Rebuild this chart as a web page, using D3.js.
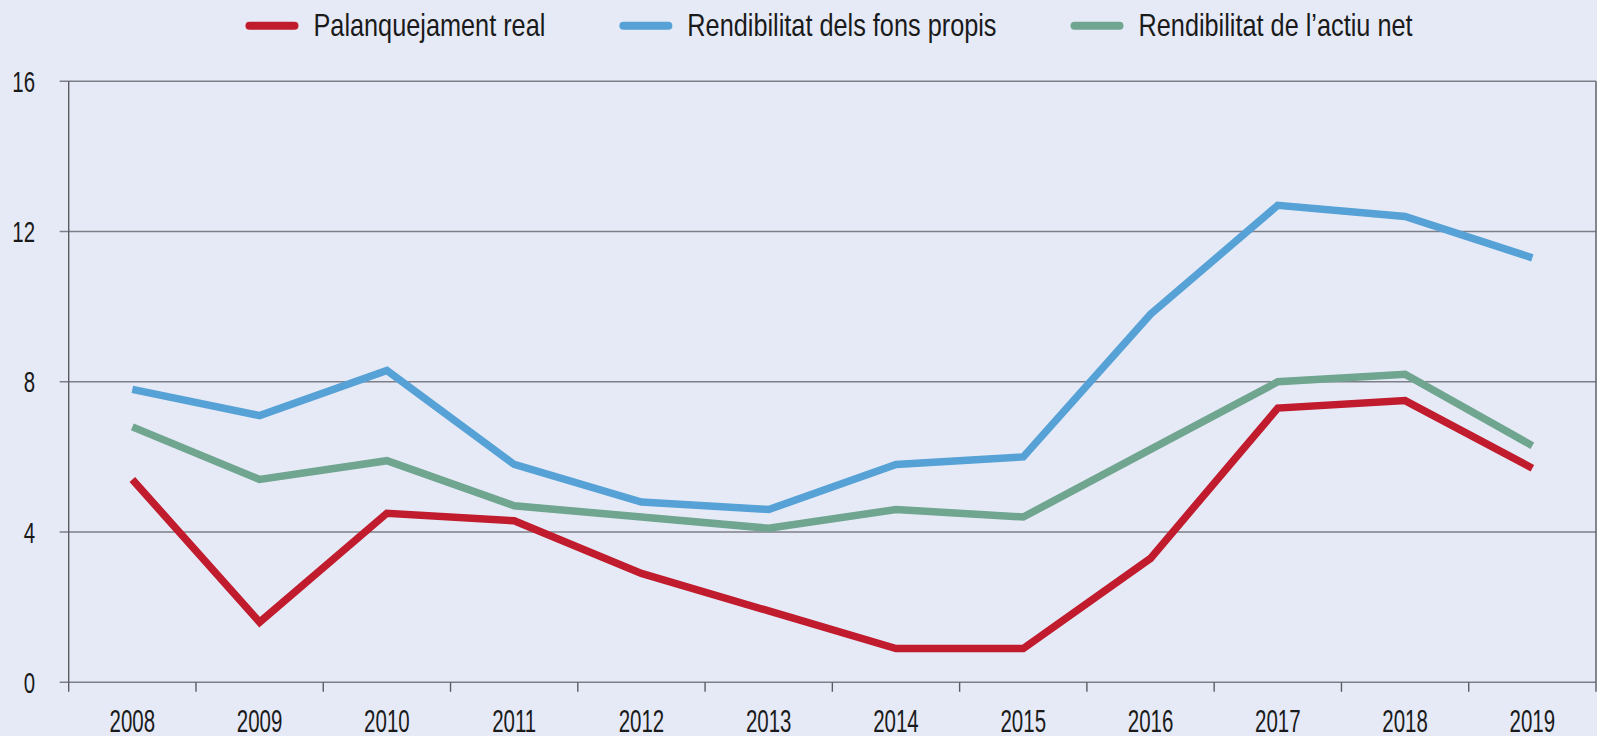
<!DOCTYPE html>
<html>
  <head>
    <meta charset="UTF-8">
    <title>Palanquejament i rendibilitat</title>
    <script src="https://d3js.org/d3.v7.min.js"></script>
    <style>
      body { margin: 0; background: #e6eaf7; }
      svg text { font-family: "Liberation Sans", Arial, sans-serif; fill: #1a1a1a; }
    </style>
  </head>
  <body>
    <svg id="chart" width="1597" height="736"></svg>
    <script>
      // Data
      const years = ["2008", "2009", "2010", "2011", "2012", "2013", "2014", "2015", "2016", "2017", "2018", "2019"];
      const palanquejament = [5.4, 1.6, 4.5, 4.3, 2.9, 1.9, 0.9, 0.9, 3.3, 7.3, 7.5, 5.7];
      const fonsPropis = [7.8, 7.1, 8.3, 5.8, 4.8, 4.6, 5.8, 6.0, 9.8, 12.7, 12.4, 11.3];
      const actiuNet = [6.8, 5.4, 5.9, 4.7, 4.4, 4.1, 4.6, 4.4, 6.2, 8.0, 8.2, 6.3];
      const yTicks = [0, 4, 8, 12, 16];

      const series = [
        { name: "Palanquejament real", values: palanquejament, color: "#c01c2d" },
        { name: "Rendibilitat dels fons propis", values: fonsPropis, color: "#56a1d5" },
        { name: "Rendibilitat de l\u2019actiu net", values: actiuNet, color: "#70a58f" }
      ];

      const plotLeft = 68.7, plotRight = 1596, plotTop = 81.3, plotBottom = 682.3;

      const svg = d3.select("#chart");

      const x = d3.scaleBand().domain(years).range([plotLeft, plotRight]).padding(0);
      const y = d3.scaleLinear().domain([0, 16]).range([plotBottom, plotTop]);

      // squeeze text horizontally to look like a condensed face
      function condense(sel, k) {
        sel.each(function () {
          const w = this.getComputedTextLength();
          d3.select(this).attr("textLength", w * k).attr("lengthAdjust", "spacingAndGlyphs");
        });
      }

      // Horizontal gridlines
      svg.append("g").selectAll("line")
        .data(yTicks)
        .join("line")
        .attr("x1", plotLeft - 9)
        .attr("x2", plotRight)
        .attr("y1", d => y(d))
        .attr("y2", d => y(d))
        .attr("stroke", "#7d7f86")
        .attr("stroke-width", 1.6);

      // Y labels
      svg.append("g").selectAll("text")
        .data(yTicks)
        .join("text")
        .attr("x", 35)
        .attr("y", d => y(d) + 10.5)
        .attr("text-anchor", "end")
        .attr("font-size", 30)
        .text(d => d)
        .call(condense, 0.68);

      // Left and right frame lines
      svg.append("g").selectAll("line")
        .data([plotLeft, plotRight])
        .join("line")
        .attr("x1", d => d).attr("x2", d => d)
        .attr("y1", plotTop).attr("y2", plotBottom)
        .attr("stroke", "#5a5c62")
        .attr("stroke-width", 1.4);

      // Category boundary ticks
      const bounds = years.map(d => x(d)).concat([plotRight]);
      svg.append("g").selectAll("line")
        .data(bounds)
        .join("line")
        .attr("x1", d => d).attr("x2", d => d)
        .attr("y1", plotBottom).attr("y2", plotBottom + 9.5)
        .attr("stroke", "#5a5c62")
        .attr("stroke-width", 1.4);

      // Year labels
      svg.append("g").selectAll("text")
        .data(years)
        .join("text")
        .attr("x", d => x(d) + x.bandwidth() / 2)
        .attr("y", 731.5)
        .attr("text-anchor", "middle")
        .attr("font-size", 32)
        .text(d => d)
        .call(condense, 0.64);

      // Lines
      const line = d3.line()
        .x((d, i) => x(years[i]) + x.bandwidth() / 2)
        .y(d => y(d));

      svg.append("g").selectAll("path")
        .data(series)
        .join("path")
        .attr("d", d => line(d.values))
        .attr("fill", "none")
        .attr("stroke", d => d.color)
        .attr("stroke-width", 7.5)
        .attr("stroke-linejoin", "miter");

      // Legend
      const legend = svg.append("g");
      const items = legend.selectAll("g")
        .data(series)
        .join("g");
      items.append("line")
        .attr("x1", 4).attr("x2", 49)
        .attr("y1", 25.7).attr("y2", 25.7)
        .attr("stroke", d => d.color)
        .attr("stroke-width", 8)
        .attr("stroke-linecap", "round");
      items.append("text")
        .attr("x", 68)
        .attr("y", 35.7)
        .attr("font-size", 32)
        .text(d => d.name)
        .call(condense, 0.79);

      const widths = [];
      items.each(function () {
        widths.push(68 + +d3.select(this).select("text").attr("textLength"));
      });
      const gap = 74;
      const total = d3.sum(widths) + gap * (widths.length - 1);
      let start = 829 - total / 2;
      items.attr("transform", (d, i) => {
        const t = `translate(${start},0)`;
        start += widths[i] + gap;
        return t;
      });
    </script>
  </body>
</html>
